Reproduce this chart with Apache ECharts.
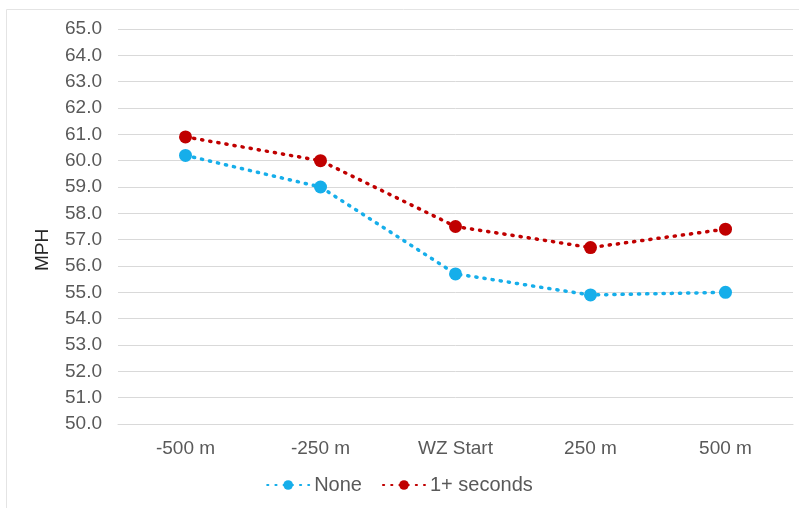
<!DOCTYPE html>
<html>
<head>
<meta charset="utf-8">
<script src="https://cdn.jsdelivr.net/npm/echarts@6/dist/echarts.min.js"></script>
<style>html,body{margin:0;padding:0;background:#fff}#c{width:799px;height:508px}</style>
</head>
<body>
<div id="c"></div>
<script>
var categories = ['-500 m', '-250 m', 'WZ Start', '250 m', '500 m'];
var noneValues = [60.2, 59.0, 55.7, 54.9, 55.0];
var oneSecValues = [60.9, 60.0, 57.5, 56.7, 57.4];
var yMin = 50, yMax = 65, yStep = 1;

var chart = echarts.init(document.getElementById('c'));
var font = 'Liberation Sans, Arial, sans-serif';
chart.setOption({
  animation: false,
  backgroundColor: '#fff',
  graphic: [
    {type: 'rect', shape: {x: 6.5, y: 9.5, width: 800, height: 510}, style: {fill: 'none', stroke: '#e4e4e4', lineWidth: 1}, silent: true},
    {type: 'text', x: 43, y: 250, rotation: Math.PI / 2, style: {text: 'MPH', font: '19px ' + font, fill: '#262626', align: 'center', verticalAlign: 'middle'}}
  ],
  grid: {left: 118, right: 6, top: 29, bottom: 84, containLabel: false},
  legend: {
    bottom: 8, left: 'center', itemWidth: 42, itemHeight: 12, itemGap: 20,
    textStyle: {fontSize: 20, color: '#595959', fontFamily: font},
    data: ['None', '1+ seconds']
  },
  xAxis: {
    type: 'category', data: categories, boundaryGap: true,
    axisLine: {show: true, lineStyle: {color: '#d9d9d9', width: 1}},
    axisTick: {show: false},
    axisLabel: {fontSize: 19, color: '#595959', fontFamily: font, margin: 15}
  },
  yAxis: {
    type: 'value', min: yMin, max: yMax, interval: yStep,
    axisLine: {show: false}, axisTick: {show: false},
    axisLabel: {fontSize: 19, color: '#595959', fontFamily: font, margin: 16, formatter: function (v) { return v.toFixed(1); }},
    splitLine: {lineStyle: {color: '#d9d9d9', width: 1}}
  },
  series: [
    {name: 'None', type: 'line', data: noneValues, symbol: 'circle', symbolSize: 13,
      itemStyle: {color: '#16AEEA'}, lineStyle: {color: '#16AEEA', width: 3.5, type: [1.2, 7], cap: 'round'}},
    {name: '1+ seconds', type: 'line', data: oneSecValues, symbol: 'circle', symbolSize: 13,
      itemStyle: {color: '#C00000'}, lineStyle: {color: '#C00000', width: 3.5, type: [1.2, 7], cap: 'round'}}
  ]
});
</script>
</body>
</html>
